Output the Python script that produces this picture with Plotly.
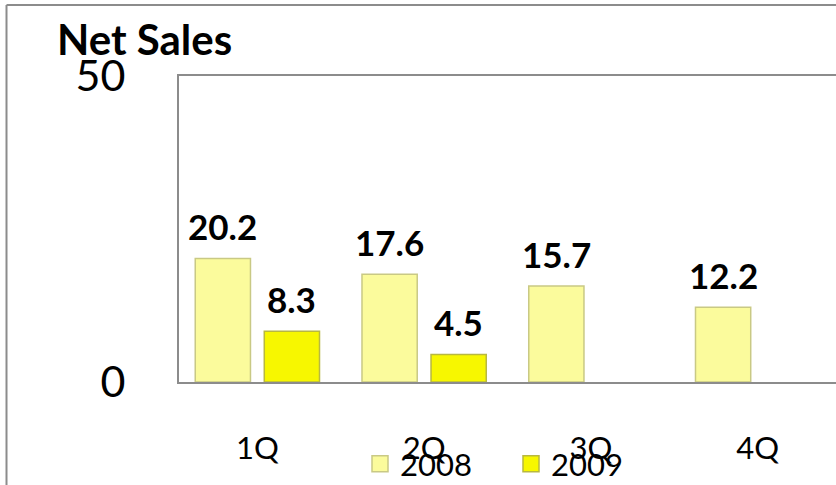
import plotly.graph_objects as go

# Quarterly net sales, two fiscal years
quarters = ["1Q", "2Q", "3Q", "4Q"]
sales_2008 = [20.2, 17.6, 15.7, 12.2]
sales_2009 = [8.3, 4.5, None, None]
y_ticks = [0, 50]

FONT = "Lato, 'Open Sans', sans-serif"
W, H = 836, 485
L, R, T, B = 179, 0, 76, 103
pw, ph = W - L - R, H - T - B

COLORS = {
    "2008": ("#FBFB9C", "#C9C985"),
    "2009": ("#F7F700", "#B8B840"),
}


def px_x(p):
    return (p - L) / pw


def px_y(p):
    return (H - B - p) / ph


fig = go.Figure()
for name, values in (("2008", sales_2008), ("2009", sales_2009)):
    fill, edge = COLORS[name]
    fig.add_trace(go.Bar(
        name=name, x=quarters, y=values, legendgroup=name, showlegend=False,
        marker=dict(color=fill, line=dict(color=edge, width=1.5)),
    ))
    # larger square swatch for the legend entry
    fig.add_trace(go.Scatter(
        name=name, x=[None], y=[None], mode="markers", legendgroup=name,
        marker=dict(symbol="square", size=16, color=fill,
                    line=dict(color=edge, width=1.5)),
    ))

# value labels above each bar
half_slot = (1 - 0.172) / 4
for series, off in ((sales_2008, -half_slot), (sales_2009, half_slot)):
    for i, v in enumerate(series):
        if v is None:
            continue
        fig.add_annotation(
            x=i + off, y=v, xref="x", yref="y",
            text=f"<b>{v:.1f}</b>", showarrow=False,
            yanchor="bottom", yshift=9,
            font=dict(family=FONT, size=35, color="black"),
        )

# "Net Sales" heading
fig.add_annotation(
    x=px_x(55), xref="paper", y=px_y(39), yref="paper", text="<b>Net Sales</b>",
    showarrow=False, xanchor="left", yanchor="middle",
    font=dict(family=FONT, size=42, color="black"),
)

# outer frame (top and left edges)
fig.add_shape(type="line", xref="paper", yref="paper",
              x0=px_x(6.5), x1=px_x(840), y0=px_y(5), y1=px_y(5),
              line=dict(color="#8C8C8C", width=2))
fig.add_shape(type="line", xref="paper", yref="paper",
              x0=px_x(6.5), x1=px_x(6.5), y0=px_y(5), y1=px_y(490),
              line=dict(color="#8C8C8C", width=2))

fig.update_layout(
    width=W, height=H,
    margin=dict(l=L, r=R, t=T, b=B, autoexpand=False),
    paper_bgcolor="white", plot_bgcolor="white",
    barmode="group", bargap=0.172, bargroupgap=0.2,
    font=dict(family=FONT, color="black"),
    showlegend=True,
    legend=dict(
        orientation="h", x=px_x(360), xanchor="left",
        y=px_y(464), yanchor="middle",
        font=dict(family=FONT, size=31, color="black"),
        entrywidth=106, entrywidthmode="pixels", itemsizing="trace",
        bgcolor="rgba(0,0,0,0)",
    ),
    xaxis=dict(
        range=[-0.47, -0.47 + pw / 166.75], showgrid=False,
        showline=True, linecolor="#8C8C8C", linewidth=2, mirror=True,
        ticks="", ticklabelstandoff=38,
        tickfont=dict(family=FONT, size=31, color="black"),
    ),
    yaxis=dict(
        range=[0, 50], tickvals=y_ticks, showgrid=False, zeroline=False,
        showline=True, linecolor="#8C8C8C", linewidth=2,
        ticks="", ticklabelstandoff=43,
        tickfont=dict(family=FONT, size=43, color="black"),
    ),
)

fig.write_html("out.html")
